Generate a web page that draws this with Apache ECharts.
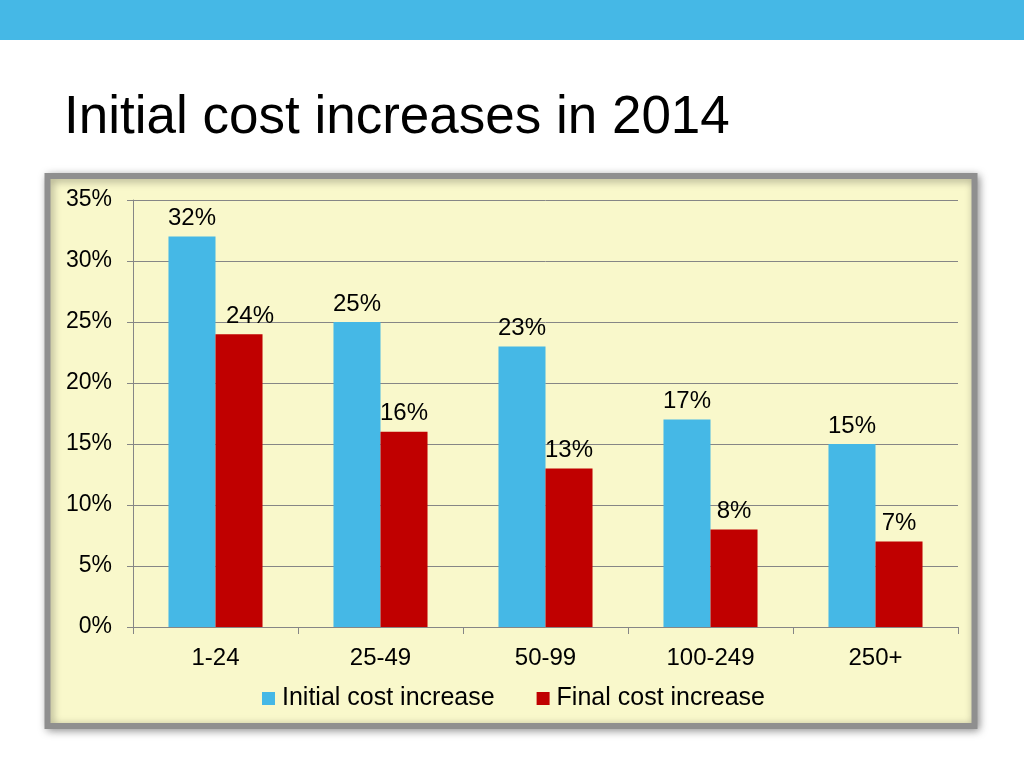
<!DOCTYPE html>
<html><head><meta charset="utf-8">
<script src="https://cdn.jsdelivr.net/npm/echarts@6/dist/echarts.min.js"></script>
<style>html,body{margin:0;padding:0;background:#fff}#c{width:1024px;height:768px}</style>
</head><body><div id="c"></div>
<script>
const categories = ['1-24', '25-49', '50-99', '100-249', '250+'];
const initialCost = [32, 25, 23, 17, 15];
const finalCost = [24, 16, 13, 8, 7];
const seriesNames = ['Initial cost increase', 'Final cost increase'];
const yTicks = [0, 5, 10, 15, 20, 25, 30, 35];

const chart = echarts.init(document.getElementById('c'));
const FONT = 'Liberation Sans';
const labelStyle = { show: true, position: 'top', distance: 6, color: '#000', fontSize: 24, fontFamily: FONT, formatter: p => p.value + '%' };
chart.setOption({
  animation: false,
  backgroundColor: '#fff',
  graphic: [
    { type: 'rect', shape: { x: 0, y: 0, width: 1024, height: 40 }, style: { fill: '#45b8e6' }, z: -10 },
    { type: 'rect', shape: { x: 47.5, y: 176, width: 927, height: 550 }, style: { fill: '#f9f8cb', stroke: '#8f8f8f', lineWidth: 6, shadowBlur: 8, shadowColor: 'rgba(0,0,0,0.35)', shadowOffsetX: 2, shadowOffsetY: 2 }, z: -10 }
  ],
  title: {
    text: 'Initial cost increases in 2014',
    left: 59, top: 87,
    textStyle: { fontFamily: FONT, fontWeight: 'normal', fontSize: 53, color: '#000' }
  },
  grid: { left: 133, right: 66, top: 200, bottom: 141 },
  legend: {
    data: seriesNames,
    left: 262, top: 686, padding: 0,
    icon: 'rect', itemWidth: 13, itemHeight: 13, itemGap: 42,
    textStyle: { fontSize: 25, fontFamily: FONT, color: '#000', padding: [0, 0, 0, 2] }
  },
  xAxis: {
    type: 'category', data: categories,
    axisLine: { lineStyle: { color: '#868686', width: 1 } },
    axisTick: { show: true, length: 7, lineStyle: { color: '#868686' } },
    axisLabel: { color: '#000', fontSize: 24, fontFamily: FONT, margin: 19 }
  },
  yAxis: {
    type: 'value', min: yTicks[0], max: yTicks[yTicks.length - 1], interval: 5,
    axisLine: { show: true, lineStyle: { color: '#868686' } },
    axisTick: { show: true, length: 6, lineStyle: { color: '#868686' } },
    splitLine: { lineStyle: { color: '#868686' } },
    axisLabel: { color: '#000', fontSize: 23, fontFamily: FONT, margin: 21, formatter: v => v + '%' }
  },
  series: [
    { name: seriesNames[0], type: 'bar', data: initialCost, barGap: '0%', barCategoryGap: '43%', itemStyle: { color: '#45b8e6' }, label: labelStyle },
    { name: seriesNames[1], type: 'bar', data: finalCost.map((v, i) => i === 0 ? { value: v, label: { offset: [11, 0] } } : v), itemStyle: { color: '#c00000' }, label: labelStyle }
  ]
});
</script></body></html>
